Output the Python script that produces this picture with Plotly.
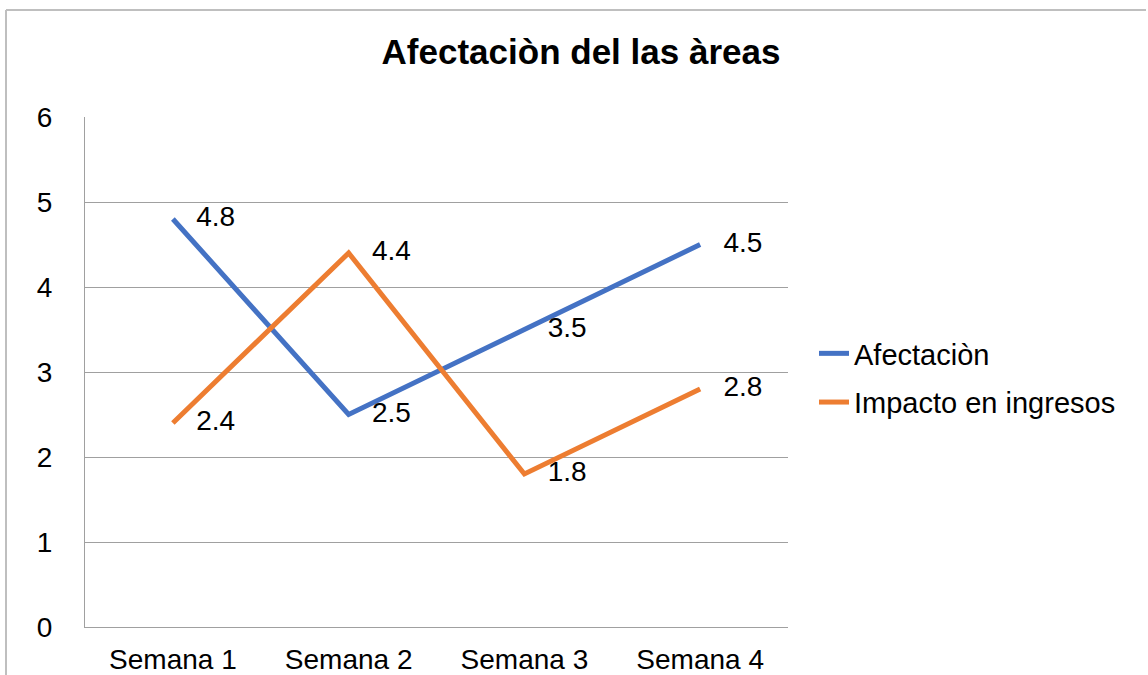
import plotly.graph_objects as go

categories = ["Semana 1", "Semana 2", "Semana 3", "Semana 4"]
afectacion = [4.8, 2.5, 3.5, 4.5]
impacto = [2.4, 4.4, 1.8, 2.8]
y_ticks = [0, 1, 2, 3, 4, 5, 6]

W, H = 1148, 675
L, R, T, B = 85, 788, 117, 627

def px(x):
    return (x - L) / (R - L)

def py(y):
    return (B - y) / (B - T)

FONT = "Liberation Sans, Arial"
NB = "\u00a0\u00a0\u00a0"
fig = go.Figure()
fig.add_trace(go.Scatter(
    x=categories, y=afectacion, name="Afectaciòn", mode="lines+text",
    legendgroup="a",
    line=dict(color="#4472C4", width=5),
    texttemplate=NB + "%{y}", textposition="middle right",
    textfont=dict(size=28, color="#000000", family=FONT),
))
fig.add_trace(go.Scatter(
    x=categories, y=impacto, name="Impacto en ingresos", mode="lines+text",
    legendgroup="b",
    line=dict(color="#ED7D31", width=5),
    texttemplate=NB + "%{y}", textposition="middle right",
    textfont=dict(size=28, color="#000000", family=FONT),
))

fig.update_layout(
    width=W, height=H,
    margin=dict(l=L, r=W - R, t=T, b=H - B, pad=0, autoexpand=False),
    paper_bgcolor="white", plot_bgcolor="white",
    font=dict(family=FONT, size=28, color="#000000"),
    title=dict(text="<b>Afectaciòn del las àreas</b>", x=581 / W, xanchor="center",
               y=1 - 52 / H, yanchor="middle", font=dict(size=35)),
    xaxis=dict(range=[-0.5, 3.5], showgrid=False, showline=True, linecolor="#a0a0a0",
               linewidth=1, ticks="", ticklabelstandoff=7, tickfont=dict(size=28),
               automargin=False),
    yaxis=dict(range=[0, 6], tickvals=y_ticks, showgrid=True, gridcolor="#a0a0a0",
               gridwidth=1, showline=True, linecolor="#a0a0a0", linewidth=1,
               zeroline=False, ticks="", ticklabelstandoff=26, tickfont=dict(size=28),
               automargin=False),
    legend=dict(x=px(814), y=py(378), yanchor="middle", xanchor="left",
                font=dict(size=29), traceorder="grouped", tracegroupgap=8,
                itemwidth=30, bgcolor="rgba(0,0,0,0)"),
    showlegend=True,
    shapes=[
        dict(type="line", xref="paper", yref="paper", x0=px(6), x1=px(6),
             y0=py(10), y1=py(680), line=dict(color="#bfbfbf", width=2)),
        dict(type="line", xref="paper", yref="paper", x0=px(6), x1=px(1146),
             y0=py(10), y1=py(10), line=dict(color="#bfbfbf", width=2)),
    ],
)

fig.write_html("out.html", config={"displayModeBar": False},
               post_script="document.body.style.margin='0';document.body.style.overflow='hidden';")
